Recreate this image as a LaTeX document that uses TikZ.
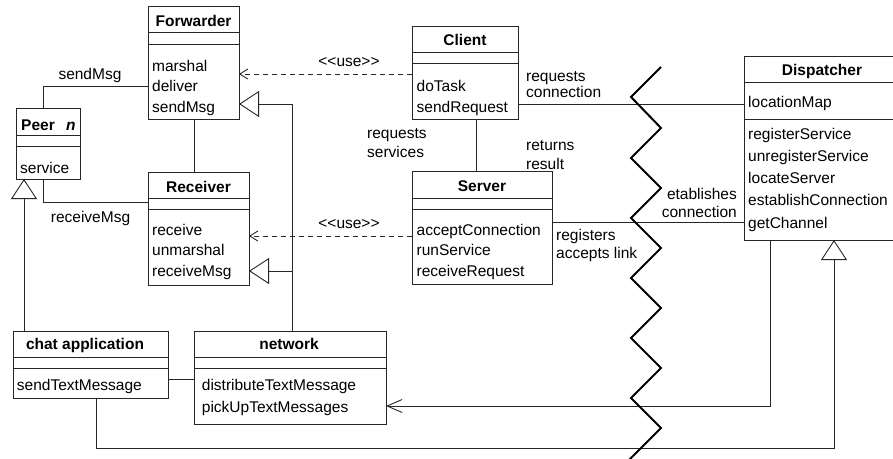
\documentclass[tikz,border=0pt]{standalone}
\usepackage{fontspec}
\newfontfamily\uf{Liberation Sans}
\usetikzlibrary{arrows.meta}
\newcommand\seps[3]{%
  \draw[ln] (#1.west |- 0,#2) -- (#1.east |- 0,#2);
  \draw[ln] (#1.west |- 0,#3) -- (#1.east |- 0,#3);}
\newcommand\mlist[5]{%
  \foreach \m [count=\i] in {#5} {\node[txt, anchor=base west] (#1\i) at (#2,{#3+(\i-1)*#4}) {\m};}}
\begin{document}
\begin{tikzpicture}[x=1pt,y=-1pt,
  ln/.style={draw=black!85, line width=0.9pt},
  cbox/.style={ln, anchor=north west, inner sep=0pt, outer sep=0pt},
  txt/.style={font=\uf\fontsize{15.5}{20}\selectfont, inner sep=0pt, text=black},
  ttl/.style={font=\uf\fontsize{15.5}{20}\selectfont\bfseries, inner sep=0pt, text=black},
  gen/.style={ln, -{Triangle[open, length=20pt, width=26pt]}},
  use/.style={ln, dash pattern=on 5pt off 4pt, -{Straight Barb[length=8pt, width=10pt]}},
  nav/.style={ln, -{Straight Barb[length=15pt, width=13pt]}},
  wall/.style={draw=black, line width=2pt, line join=miter}
]
\useasboundingbox (0,0) rectangle (893,458);
\clip (0,0) rectangle (893,458);

% class boxes
\node[cbox, minimum width=91pt,  minimum height=113pt] (fwd)  at (148,6) {};
\node[cbox, minimum width=64pt,  minimum height=71pt]  (peer) at (16,108) {};
\node[cbox, minimum width=101pt, minimum height=113pt] (rcv)  at (148,172) {};
\node[cbox, minimum width=106pt, minimum height=93pt]  (cli)  at (412,26) {};
\node[cbox, minimum width=140pt, minimum height=113pt] (srv)  at (412,171) {};
\node[cbox, minimum width=170pt, minimum height=184pt] (dsp)  at (744,56) {};
\node[cbox, minimum width=155pt, minimum height=67pt]  (chat) at (13,331) {};
\node[cbox, minimum width=192pt, minimum height=93pt]  (net)  at (194,331) {};

\seps{fwd}{32.7}{44}
\seps{peer}{135}{146}
\seps{rcv}{198}{209}
\seps{cli}{52}{63}
\seps{srv}{198.3}{209.3}
\seps{dsp}{82}{119}
\seps{chat}{357}{368}
\seps{net}{357}{368}

% titles
\node[ttl, anchor=base] (fwdt) at (193.5,26) {Forwarder};
\node[ttl, anchor=base west] (peert) at (21,130) {Peer};
\node[ttl, anchor=base west] (peern) at (66,130) {\itshape n};
\node[ttl, anchor=base] (rcvt) at (198.5,192.3) {Receiver};
\node[ttl, anchor=base] (clit) at (465,45.5) {Client};
\node[ttl, anchor=base] (srvt) at (482,191.7) {Server};
\node[ttl, anchor=base] (dspt) at (822,75) {Dispatcher};
\node[ttl, anchor=base] (chatt) at (85,349.3) {chat application};
\node[ttl, anchor=base] (nett) at (289,349.3) {network};

% members
\mlist{fwdm}{152}{71.5}{20.3}{marshal,deliver,sendMsg}
\mlist{peerm}{20}{173}{20.3}{service}
\mlist{rcvm}{152}{235}{20.5}{receive,unmarshal,receiveMsg}
\mlist{clim}{416.5}{91.7}{20.3}{doTask,sendRequest}
\mlist{srvm}{416.5}{235}{20.5}{acceptConnection,runService,receiveRequest}
\node[txt, anchor=base west] (dspa) at (748,107.7) {locationMap};
\mlist{dspm}{748}{139.3}{22.2}{registerService,unregisterService,locateServer,establishConnection,getChannel}
\mlist{chatm}{16.7}{390.7}{21.5}{sendTextMessage}
\mlist{netm}{201.7}{390.7}{21.5}{distributeTextMessage,pickUpTextMessages}

% connectors
\draw[ln] (peer.north -| 43,0) |- (fwd.west |- 0,86);
\draw[ln] (peer.south -| 43,0) |- (rcv.west |- 0,202);
\draw[ln] (fwd.south -| 194,0) -- (rcv.north -| 194,0);
\draw[gen] (chat.north -| 24,0) -- (peer.south -| 24,0);
\draw[gen] (net.north -| 292,0) |- (fwd.east |- 0,104);
\coordinate (j) at (292,271);
\draw[gen] (j) -- (rcv.east |- j);
\draw[use] (cli.west |- 0,74) -- (fwd.east |- 0,74);
\draw[use] (srv.west |- 0,236) -- (rcv.east |- 0,236);
\draw[ln] (cli.east |- 0,104) -- (dsp.west |- 0,104);
\draw[ln] (cli.south -| 476,0) -- (srv.north -| 476,0);
\draw[ln] (srv.east |- 0,222) -- (dsp.west |- 0,222);
\draw[ln] (chat.east |- 0,379) -- (net.west |- 0,379);
\draw[nav] (dsp.south -| 770,0) |- (net.east |- 0,406);
\coordinate (k) at (96,448);
\draw[gen] (chat.south -| k) -- (k) -| (dsp.south -| 834,0);

% labels
\node[txt, anchor=base west] (l1) at (58.3,79.5) {sendMsg};
\node[txt, anchor=base west] (l2) at (50.7,222.5) {receiveMsg};
\node[txt, anchor=base] (l3) at (349,66.7) {<<use>>};
\node[txt, anchor=base] (l4) at (349,228) {<<use>>};
\node[txt, anchor=base west] (l5a) at (526,81.7) {requests};
\node[txt, anchor=base west] (l5b) at (526,97.7) {connection};
\node[txt, anchor=base west] (l6a) at (367,138.3) {requests};
\node[txt, anchor=base west] (l6b) at (367,157.7) {services};
\node[txt, anchor=base west] (l7a) at (526,150) {returns};
\node[txt, anchor=base west] (l7b) at (526,169) {result};
\node[txt, anchor=base west] (l8a) at (556,240) {registers};
\node[txt, anchor=base west] (l8b) at (556,258.3) {accepts link};
\node[txt, anchor=base east] (l9a) at (737,199) {etablishes};
\node[txt, anchor=base east] (l9b) at (737,217.7) {connection};

% network boundary
\draw[wall] (661,67) -- (631,97) -- (661,128) -- (631,158) -- (661,188) -- (631,218)
  -- (661,248) -- (631,278) -- (661,308) -- (631,338) -- (661,368) -- (631,398)
  -- (661,428) -- (631,458) -- (627,462);
\end{tikzpicture}
\end{document}
